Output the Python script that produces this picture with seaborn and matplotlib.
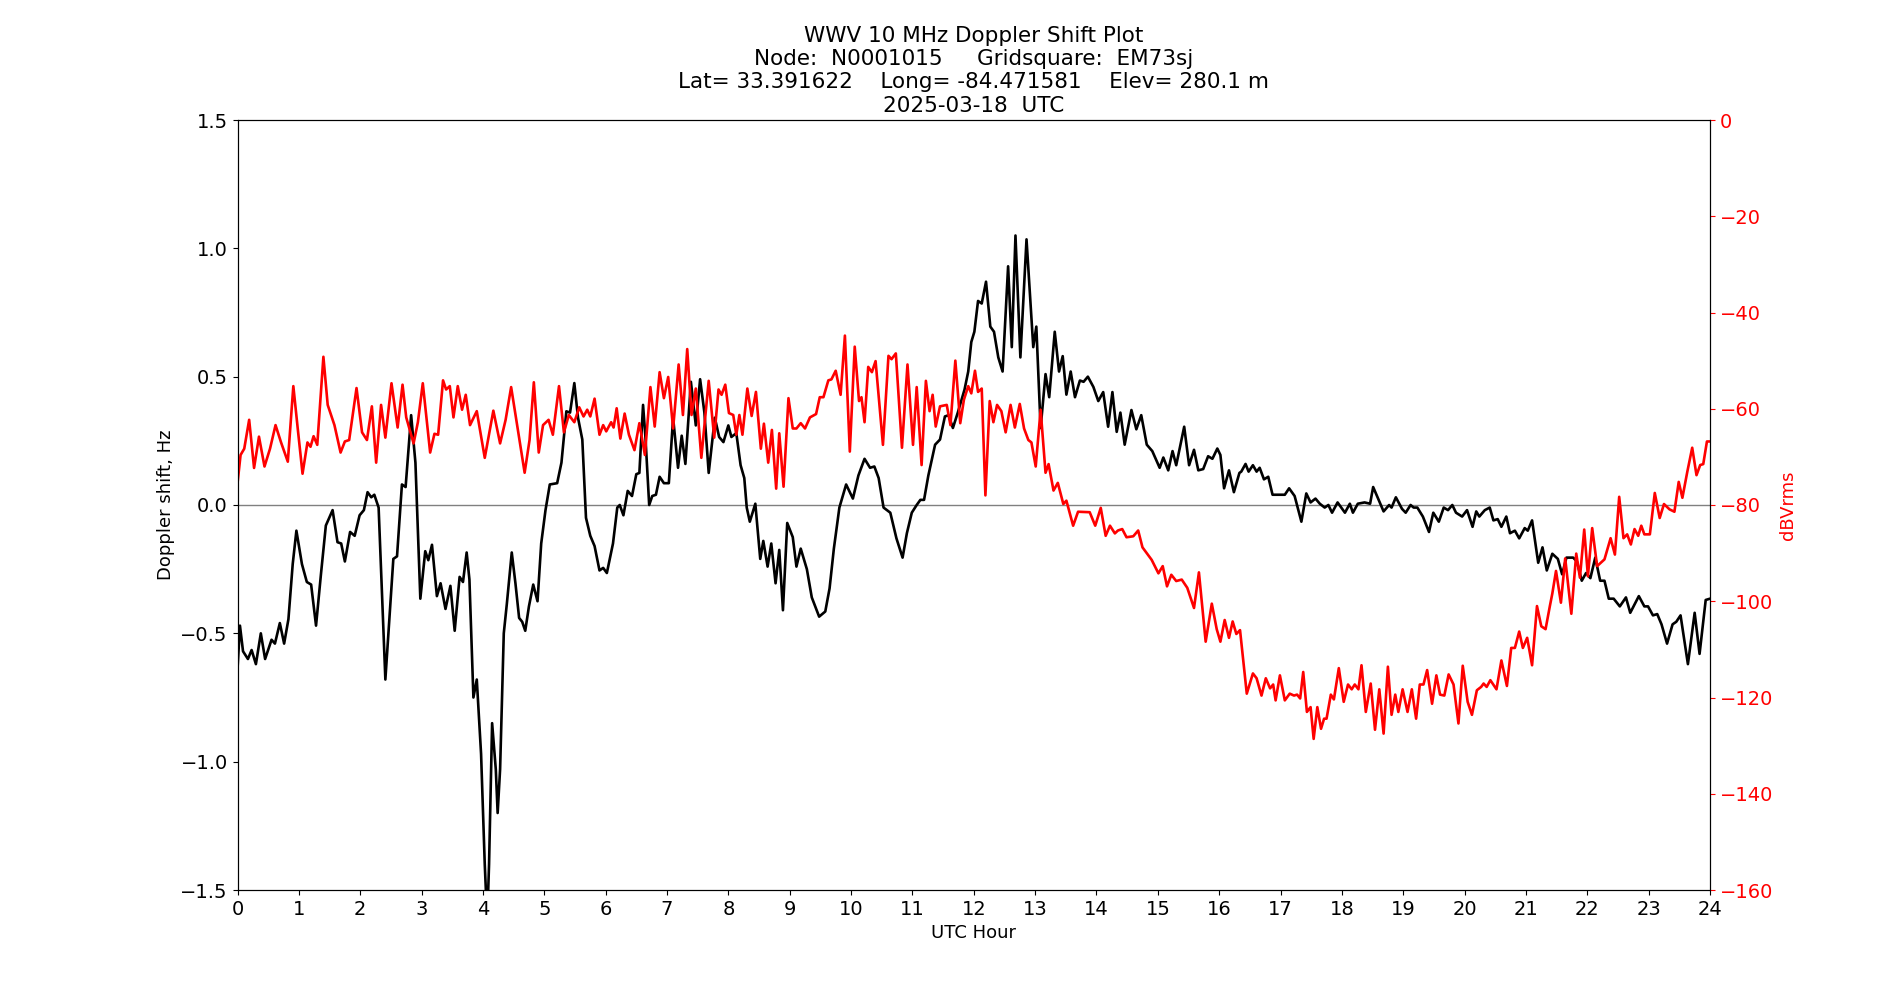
import matplotlib
matplotlib.use("Agg")
import matplotlib.pyplot as plt
import seaborn as sns
import pandas as pd

# ---------------- data ----------------
doppler_hours = [
    0.00, 0.04, 0.09, 0.17, 0.23, 0.30, 0.38, 0.45, 0.555, 0.61, 0.69, 0.76, 0.83, 0.90, 0.96,
    1.05, 1.13, 1.20, 1.28, 1.36, 1.44, 1.55, 1.63, 1.69, 1.75, 1.835, 1.91, 1.99,
    2.06, 2.12, 2.18, 2.23, 2.30, 2.41, 2.54, 2.60, 2.68, 2.74, 2.83, 2.90, 2.98,
    3.06, 3.11, 3.17, 3.25, 3.31, 3.39, 3.47, 3.54, 3.62, 3.675, 3.735, 3.78, 3.845, 3.90, 3.97,
    4.03, 4.07, 4.10, 4.15, 4.21, 4.24, 4.28, 4.34, 4.39, 4.47, 4.53, 4.59, 4.64, 4.69, 4.75, 4.82, 4.89, 4.95,
    5.02, 5.09, 5.21, 5.28, 5.36, 5.42, 5.49, 5.55, 5.62, 5.68, 5.75, 5.82, 5.90, 5.96,
    6.02, 6.12, 6.19, 6.23, 6.29, 6.36, 6.43, 6.50, 6.55, 6.61, 6.65, 6.71, 6.76, 6.82, 6.88, 6.95,
    7.03, 7.10, 7.18, 7.24, 7.30, 7.39, 7.47, 7.54, 7.61, 7.68, 7.78, 7.85, 7.92,
    8.00, 8.05, 8.13, 8.20, 8.26, 8.30, 8.35, 8.44, 8.52, 8.57, 8.64, 8.70, 8.77, 8.83, 8.89, 8.96,
    9.05, 9.11, 9.18, 9.28, 9.36, 9.48, 9.58, 9.65, 9.72, 9.81, 9.92,
    10.03, 10.12, 10.22, 10.31, 10.38, 10.45, 10.53, 10.64, 10.74, 10.84, 10.91, 10.99,
    11.07, 11.13, 11.19, 11.26, 11.37, 11.45, 11.53, 11.59, 11.66, 11.74, 11.85, 11.91, 11.96,
    12.01, 12.07, 12.13, 12.20, 12.27, 12.33, 12.40, 12.47, 12.56, 12.62, 12.68, 12.76, 12.86, 12.97,
    13.02, 13.09, 13.17, 13.23, 13.32, 13.39, 13.45, 13.51, 13.58, 13.65, 13.73, 13.79, 13.86, 13.95,
    14.03, 14.11, 14.19, 14.26, 14.33, 14.39, 14.46, 14.57, 14.65, 14.73, 14.82, 14.91,
    15.03, 15.09, 15.17, 15.24, 15.30, 15.43, 15.51, 15.59, 15.66, 15.74, 15.82, 15.89, 15.97,
    16.02, 16.08, 16.16, 16.24, 16.33, 16.36, 16.43, 16.48, 16.55, 16.61, 16.66, 16.73, 16.80, 16.87, 16.98,
    17.07, 17.14, 17.23, 17.34, 17.42, 17.49, 17.57, 17.64, 17.72, 17.78, 17.84, 17.93,
    18.05, 18.13, 18.18, 18.26, 18.37, 18.46, 18.51, 18.59, 18.68, 18.77, 18.81, 18.88, 18.98,
    19.04, 19.12, 19.17, 19.23, 19.32, 19.42, 19.49, 19.58, 19.66, 19.73, 19.80, 19.86, 19.96,
    20.04, 20.13, 20.19, 20.24, 20.33, 20.41, 20.47, 20.54, 20.60, 20.68, 20.74, 20.82, 20.89, 20.98,
    21.03, 21.10, 21.20, 21.27, 21.34, 21.43, 21.52, 21.59, 21.66, 21.77, 21.83, 21.91, 21.98,
    22.05, 22.13, 22.21, 22.28, 22.35, 22.43, 22.53, 22.63, 22.70, 22.84, 22.93, 22.99,
    23.07, 23.14, 23.21, 23.30, 23.39, 23.45, 23.52, 23.64, 23.75, 23.83, 23.93, 24.00,
]
doppler_hz = [
    -0.64, -0.47, -0.57, -0.60, -0.565, -0.62, -0.50, -0.60, -0.525, -0.54, -0.46, -0.54, -0.445, -0.23, -0.10,
    -0.23, -0.30, -0.31, -0.47, -0.27, -0.08, -0.02, -0.145, -0.15, -0.22, -0.105, -0.12, -0.04,
    -0.02, 0.05, 0.03, 0.04, -0.01, -0.68, -0.21, -0.20, 0.08, 0.07, 0.35, 0.165, -0.365,
    -0.18, -0.215, -0.155, -0.355, -0.305, -0.405, -0.315, -0.49, -0.28, -0.30, -0.185, -0.29, -0.75, -0.68, -0.97,
    -1.40, -1.62, -1.40, -0.85, -1.03, -1.20, -1.03, -0.50, -0.385, -0.185, -0.305, -0.44, -0.455, -0.49, -0.395, -0.31, -0.375, -0.15,
    -0.02, 0.08, 0.085, 0.165, 0.365, 0.36, 0.475, 0.34, 0.255, -0.05, -0.12, -0.16, -0.255, -0.245,
    -0.265, -0.15, -0.01, 0.0, -0.04, 0.055, 0.035, 0.12, 0.125, 0.39, 0.26, 0.0, 0.035, 0.04, 0.11, 0.085,
    0.085, 0.34, 0.145, 0.27, 0.16, 0.48, 0.31, 0.49, 0.36, 0.125, 0.34, 0.265, 0.245,
    0.31, 0.265, 0.28, 0.155, 0.105, -0.01, -0.065, 0.005, -0.21, -0.14, -0.24, -0.15, -0.305, -0.175, -0.41, -0.07,
    -0.125, -0.24, -0.17, -0.25, -0.36, -0.435, -0.415, -0.325, -0.17, -0.01, 0.08,
    0.025, 0.115, 0.18, 0.145, 0.15, 0.105, -0.01, -0.03, -0.13, -0.205, -0.11, -0.03,
    0.0, 0.02, 0.02, 0.115, 0.235, 0.255, 0.345, 0.35, 0.30, 0.36, 0.45, 0.52, 0.635,
    0.675, 0.795, 0.785, 0.87, 0.695, 0.675, 0.575, 0.52, 0.93, 0.615, 1.05, 0.575, 1.035, 0.615,
    0.695, 0.30, 0.51, 0.42, 0.675, 0.52, 0.58, 0.43, 0.52, 0.42, 0.485, 0.48, 0.50, 0.46,
    0.405, 0.44, 0.305, 0.44, 0.285, 0.36, 0.235, 0.37, 0.295, 0.35, 0.235, 0.21,
    0.145, 0.185, 0.135, 0.21, 0.155, 0.305, 0.155, 0.215, 0.135, 0.14, 0.19, 0.18, 0.22,
    0.195, 0.065, 0.135, 0.05, 0.125, 0.13, 0.16, 0.13, 0.155, 0.13, 0.145, 0.10, 0.11, 0.04, 0.04,
    0.04, 0.065, 0.035, -0.065, 0.045, 0.01, 0.025, 0.005, -0.01, 0.0, -0.03, 0.01,
    -0.03, 0.005, -0.03, 0.005, 0.01, 0.005, 0.07, 0.025, -0.025, 0.0, -0.01, 0.03, -0.015,
    -0.03, 0.0, -0.01, -0.01, -0.045, -0.105, -0.03, -0.065, -0.01, -0.02, 0.0, -0.03, -0.045,
    -0.02, -0.085, -0.025, -0.045, -0.02, -0.01, -0.06, -0.055, -0.085, -0.045, -0.11, -0.10, -0.13, -0.09,
    -0.10, -0.06, -0.225, -0.165, -0.255, -0.19, -0.21, -0.27, -0.205, -0.205, -0.22, -0.295, -0.265,
    -0.285, -0.205, -0.295, -0.295, -0.365, -0.365, -0.395, -0.36, -0.42, -0.355, -0.395, -0.395,
    -0.43, -0.425, -0.465, -0.54, -0.465, -0.455, -0.43, -0.62, -0.42, -0.58, -0.37, -0.365,
]

power_hours = [
    0.00, 0.05, 0.11, 0.19, 0.27, 0.35, 0.44, 0.53, 0.62, 0.71, 0.82, 0.91, 0.98,
    1.06, 1.14, 1.19, 1.24, 1.30, 1.40, 1.47, 1.58, 1.68, 1.75, 1.82, 1.94,
    2.03, 2.11, 2.19, 2.26, 2.34, 2.41, 2.51, 2.61, 2.69, 2.75, 2.87, 2.94,
    3.02, 3.14, 3.21, 3.27, 3.35, 3.40, 3.46, 3.52, 3.59, 3.66, 3.72, 3.79, 3.90,
    4.03, 4.17, 4.28, 4.37, 4.46, 4.57, 4.68, 4.76, 4.83, 4.91, 4.98,
    5.07, 5.14, 5.24, 5.32, 5.40, 5.49, 5.57, 5.64, 5.70, 5.75, 5.82, 5.90, 5.96,
    6.01, 6.09, 6.13, 6.18, 6.24, 6.31, 6.38, 6.47, 6.55, 6.64, 6.73, 6.80, 6.88, 6.95,
    7.02, 7.10, 7.19, 7.26, 7.33, 7.40, 7.47, 7.56, 7.68, 7.77, 7.84, 7.89, 7.95,
    8.01, 8.08, 8.13, 8.18, 8.23, 8.31, 8.38, 8.45, 8.53, 8.58, 8.65, 8.71, 8.78, 8.83, 8.90, 8.98,
    9.05, 9.11, 9.18, 9.25, 9.33, 9.43, 9.49, 9.55, 9.63, 9.68, 9.75, 9.83, 9.90, 9.98,
    10.06, 10.13, 10.17, 10.22, 10.28, 10.34, 10.40, 10.52, 10.61, 10.66, 10.73, 10.83, 10.92,
    11.01, 11.07, 11.15, 11.22, 11.28, 11.33, 11.38, 11.45, 11.56, 11.62, 11.70, 11.78, 11.84, 11.91, 11.96,
    12.02, 12.07, 12.13, 12.19, 12.26, 12.32, 12.38, 12.45, 12.52, 12.60, 12.67, 12.75, 12.82, 12.89, 12.94,
    13.01, 13.09, 13.17, 13.22, 13.30, 13.37, 13.46, 13.51, 13.62, 13.70, 13.89, 13.98,
    14.07, 14.15, 14.22, 14.30, 14.35, 14.42, 14.49, 14.60, 14.68, 14.75, 14.82, 14.90,
    15.01, 15.08, 15.15, 15.22, 15.30, 15.39, 15.48, 15.59, 15.67, 15.78, 15.88, 15.96,
    16.02, 16.09, 16.16, 16.22, 16.28, 16.34, 16.45, 16.55, 16.61, 16.69, 16.76, 16.83, 16.88, 16.92, 16.99,
    17.07, 17.15, 17.22, 17.27, 17.32, 17.37, 17.43, 17.49, 17.54, 17.60, 17.66, 17.71, 17.75, 17.82, 17.87, 17.95,
    18.03, 18.10, 18.16, 18.21, 18.27, 18.32, 18.39, 18.47, 18.54, 18.61, 18.68, 18.75, 18.81, 18.87, 18.92, 18.99,
    19.07, 19.14, 19.21, 19.27, 19.33, 19.39, 19.47, 19.54, 19.60, 19.67, 19.74, 19.82, 19.90, 19.97,
    20.05, 20.12, 20.20, 20.27, 20.31, 20.36, 20.42, 20.52, 20.60, 20.69, 20.76, 20.82, 20.89, 20.95,
    21.02, 21.10, 21.18, 21.25, 21.32, 21.39, 21.43, 21.49, 21.57, 21.64, 21.74, 21.82, 21.88, 21.95,
    22.01, 22.08, 22.16, 22.28, 22.38, 22.45, 22.52, 22.59, 22.65, 22.71, 22.77, 22.83, 22.88, 22.93,
    23.02, 23.10, 23.18, 23.25, 23.34, 23.42, 23.49, 23.55, 23.63, 23.71, 23.78, 23.84, 23.89, 23.95, 24.00,
]
power_dbv = [
    -75.5, -69.6, -68.3, -62.3, -72.3, -65.8, -72.0, -68.3, -63.4, -67.0, -71.0, -55.3, -63.9,
    -73.5, -67.0, -67.9, -65.7, -67.5, -49.2, -59.2, -63.4, -69.1, -66.8, -66.5, -55.7,
    -64.9, -66.5, -59.5, -71.2, -59.2, -66.0, -54.7, -63.9, -55.0, -61.8, -67.2, -62.8,
    -54.7, -69.1, -65.2, -65.4, -54.1, -56.0, -55.3, -61.8, -55.3, -60.2, -57.1, -63.4, -60.5,
    -70.2, -60.4, -67.2, -62.3, -55.5, -64.4, -73.3, -66.5, -54.5, -69.1, -63.4,
    -62.3, -65.4, -55.3, -64.9, -61.3, -62.8, -59.7, -61.6, -60.2, -61.6, -57.9, -65.4, -63.4,
    -64.7, -62.8, -63.9, -59.9, -66.2, -61.0, -65.4, -68.6, -63.0, -69.6, -55.5, -63.7, -52.4, -57.8,
    -53.4, -64.1, -50.8, -61.3, -47.6, -61.3, -55.8, -70.2, -54.2, -66.0, -56.0, -57.1, -55.0,
    -60.9, -61.3, -65.4, -61.3, -65.4, -55.8, -61.5, -56.5, -68.3, -63.1, -71.2, -64.4, -76.6, -65.1, -76.2, -57.8,
    -64.1, -64.1, -63.0, -64.1, -61.8, -61.1, -57.6, -57.6, -54.1, -53.9, -52.1, -57.1, -44.8, -68.9,
    -47.1, -58.4, -57.6, -62.8, -51.3, -52.4, -50.1, -67.5, -49.0, -49.7, -48.5, -68.1, -50.8,
    -67.5, -55.5, -71.7, -54.2, -60.5, -57.1, -63.7, -59.5, -59.2, -63.4, -50.0, -63.0, -58.1, -55.3, -56.8,
    -52.1, -56.5, -55.8, -78.0, -58.4, -62.8, -59.2, -60.5, -64.9, -59.2, -63.9, -59.0, -64.1, -66.5, -67.0,
    -72.0, -60.2, -73.3, -71.5, -77.0, -75.4, -79.8, -79.1, -84.3, -81.4, -81.5, -84.3,
    -80.6, -86.4, -84.3, -85.9, -85.3, -85.0, -86.7, -86.5, -85.3, -88.8, -90.0, -91.4,
    -94.2, -92.7, -96.9, -94.5, -95.8, -95.5, -97.2, -101.4, -94.0, -108.4, -100.5, -105.8,
    -108.4, -103.9, -107.6, -104.2, -106.8, -106.0, -119.2, -115.0, -116.0, -119.6, -116.0, -118.1, -117.3, -120.6, -115.4,
    -120.6, -119.2, -119.6, -119.4, -120.2, -114.7, -123.0, -122.0, -128.6, -122.0, -126.5, -124.4, -124.4, -119.4, -120.4, -113.9,
    -120.9, -117.3, -118.3, -117.3, -118.3, -113.3, -123.0, -117.1, -126.7, -118.3, -127.5, -113.6, -123.6, -119.4, -123.0, -118.3,
    -123.0, -118.3, -124.4, -117.3, -117.3, -114.3, -121.3, -115.4, -119.4, -119.6, -115.2, -117.3, -125.4, -113.4,
    -120.9, -123.6, -118.5, -117.8, -117.1, -117.8, -116.4, -118.3, -112.3, -117.6, -109.7, -109.7, -106.3, -109.7,
    -107.6, -113.3, -101.0, -105.2, -105.8, -101.0, -98.4, -93.7, -100.3, -91.1, -102.6, -90.1, -95.1, -85.1,
    -94.8, -84.8, -92.7, -91.3, -86.9, -90.3, -78.3, -86.9, -86.1, -88.2, -85.0, -86.4, -84.3, -86.1,
    -86.1, -77.5, -82.7, -79.8, -80.9, -81.4, -75.2, -78.5, -73.1, -68.1, -73.8, -71.7, -71.5, -66.8, -66.8,
]

hour_ticks = list(range(0, 25))
doppler_ticks = [-1.5, -1.0, -0.5, 0.0, 0.5, 1.0, 1.5]
power_ticks = [0, -20, -40, -60, -80, -100, -120, -140, -160]

title_lines = [
    "WWV 10 MHz Doppler Shift Plot",
    "Node:  N0001015     Gridsquare:  EM73sj",
    "Lat= 33.391622    Long= -84.471581    Elev= 280.1 m",
    "2025-03-18  UTC",
]

# ---------------- plot ----------------
plt.rcParams["font.family"] = ["DejaVu Sans"]

fig = plt.figure(figsize=(19, 10), dpi=100)
ax = fig.add_axes([0.125, 0.11, 0.775, 0.77])

df_d = pd.DataFrame({"hour": doppler_hours, "doppler": doppler_hz})
df_p = pd.DataFrame({"hour": power_hours, "power": power_dbv})

ax.axhline(0, color="grey", linewidth=1)
sns.lineplot(data=df_d, x="hour", y="doppler", ax=ax, color="black", linewidth=1.9,
             sort=False, estimator=None)
ax.set_xlim(0, 24)
ax.set_ylim(-1.5, 1.5)
ax.set_xticks(hour_ticks)
ax.set_yticks(doppler_ticks)
ax.set_xlabel("UTC Hour", fontsize=13)
ax.set_ylabel("Doppler shift, Hz", fontsize=13)
ax.tick_params(labelsize=14)
ax.set_title("\n".join(title_lines), fontsize=15.5)

ax2 = ax.twinx()
sns.lineplot(data=df_p, x="hour", y="power", ax=ax2, color="red", linewidth=1.9,
             sort=False, estimator=None)
ax2.set_ylim(-160, 0)
ax2.set_yticks(power_ticks)
ax2.set_ylabel("dBVrms", color="red", fontsize=13)
ax2.tick_params(axis="y", colors="red", labelsize=14)
for s in ax2.spines.values():
    s.set_color("black")
ax2.set_xlim(0, 24)

fig.savefig("out.png", dpi=100)
